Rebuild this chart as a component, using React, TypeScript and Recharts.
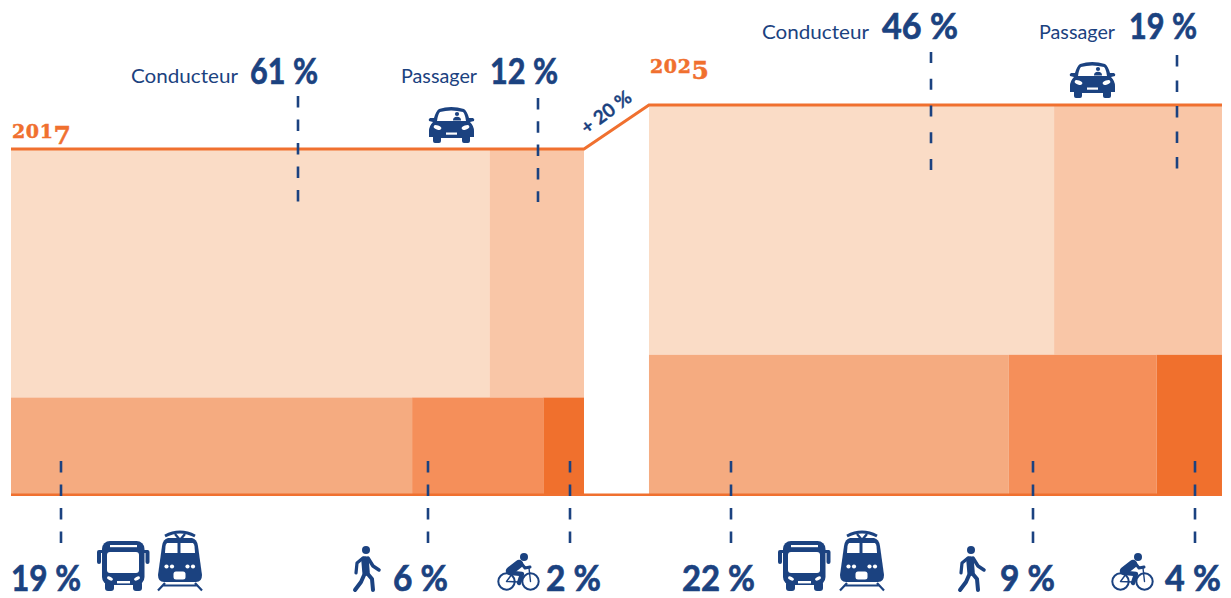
import React from 'react';
import { ComposedChart, Line, XAxis, YAxis, ReferenceArea, ReferenceLine } from 'recharts';

// ---- data ----
const years = ['2017', '2025'];
const totalVolume = [100, 112.7];          // height of each panel (2017 = 100)
const lowerHeight = [28.2, 40.5];          // height of the lower row of tiles
const conductorWidth = [83.5, 70.7];       // % of panel width
const passengerWidth = [16.5, 29.3];
const transitWidth = [70, 62.8];
const walkWidth = [22.9, 25.8];
const bikeWidth = [7.1, 11.4];
const conductorPct = ['61 %', '46 %'];
const passengerPct = ['12 %', '19 %'];
const transitPct = ['19 %', '22 %'];
const walkPct = ['6 %', '9 %'];
const bikePct = ['2 %', '4 %'];
const growthLabel = '+ 20 %';
const panelStart = [0, 111.34];

const topLine = [
  { x: panelStart[0], y: totalVolume[0] },
  { x: panelStart[0] + 100, y: totalVolume[0] },
  { x: panelStart[1], y: totalVolume[1] },
  { x: panelStart[1] + 100, y: totalVolume[1] },
];
const bottomLine = [
  { x: panelStart[0], y: 0.06 },
  { x: panelStart[1] + 100, y: 0.06 },
];

// ---- layout ----
const W = 1231;
const H = 598;
const PXU = 5.73;
const PYU = 3.46;
const BASE = 495;
const ORIGIN = 11;
const toX = (px: number) => (px - ORIGIN) / PXU;
const toY = (py: number) => (BASE - py) / PYU;

const NAVY = '#1B4280';
const ORANGE = '#F0702F';
const C_COND = '#FADCC6';
const C_PASS = '#F9C6A7';
const C_TRANS = '#F5AB80';
const C_WALK = '#F58F5A';
const C_BIKE = '#F0702D';

const leaders: [number, number, number, string][] = [
  [298, 96, 202, '11.5 12'], [538, 98, 202, '11.5 11.8'],
  [931, 52, 170, '11 15.75'], [1177, 55, 169, '11.5 14'],
  [61, 461, 543, '11.5 12'], [428, 461, 543, '11.5 12'], [570, 461, 543, '11.5 12'],
  [731, 461, 543, '11.5 12'], [1033, 461, 543, '11.5 12'], [1195, 461, 543, '11.5 12'],
];

const SANS = 'Lato, sans-serif';

const Big = ({ x, y, w, t }: { x: number; y: number; w: number; t: string }) => (
  <text x={x} y={y} fill={NAVY} stroke={NAVY} strokeWidth={0.7} fontFamily={SANS} fontWeight={700} fontSize={37}
    textLength={w} lengthAdjust="spacingAndGlyphs">{t}</text>
);
const Small = ({ x, y, w, t }: { x: number; y: number; w: number; t: string }) => (
  <text x={x} y={y} fill={NAVY} fontFamily={SANS} fontWeight={400} fontSize={19.5}
    textLength={w} lengthAdjust="spacingAndGlyphs">{t}</text>
);
const Year = ({ x, y, t }: { x: number; y: number; t: string }) => (
  <text x={x} y={y} fill={ORANGE} stroke={ORANGE} strokeWidth={0.5} fontFamily="'DejaVu Serif', serif" fontWeight={700} fontSize={19} letterSpacing={0.6}>
    {t.slice(0, 3)}<tspan dy={5.5} fontSize={25}>{t.slice(3)}</tspan>
  </text>
);

const Bus = ({ x, y }: { x: number; y: number }) => (
  <g transform={`translate(${x},${y})`} fill={NAVY}>
    <rect x={5} y={0} width={42.5} height={44} rx={8} />
    <rect x={0} y={9} width={4} height={14} rx={2} />
    <rect x={48.5} y={9} width={4} height={14} rx={2} />
    <rect x={2} y={9} width={6} height={3} />
    <rect x={45} y={9} width={6} height={3} />
    <rect x={8} y={40} width={9} height={10} rx={3} />
    <rect x={36} y={40} width={9} height={10} rx={3} />
    <rect x={13} y={4} width={27} height={2.2} fill="#fff" />
    <rect x={10} y={11} width={32} height={21} rx={3} fill="#fff" />
    <ellipse cx={13} cy={37.5} rx={3.2} ry={1.7} fill="#fff" transform="rotate(25 13 37.5)" />
    <ellipse cx={40} cy={37.5} rx={3.2} ry={1.7} fill="#fff" transform="rotate(-25 40 37.5)" />
    <rect x={20} y={40} width={13} height={2.4} fill="#fff" />
  </g>
);

const Train = ({ x, y }: { x: number; y: number }) => (
  <g transform={`translate(${x},${y})`} fill={NAVY}>
    <path d="M8 6 Q23 -2 38 6" fill="none" stroke={NAVY} strokeWidth={2.8} />
    <path d="M18 4 L23 10 L28 4" fill="none" stroke={NAVY} strokeWidth={2.4} />
    <path d="M11 8 L35 8 Q40 9 41 16 L45 45 Q45 52 39 52 L7 52 Q1 52 1 45 L5 16 Q6 9 11 8 Z" />
    <path d="M10 13 L20.5 13 L20.5 23 L8 23 L8.5 16 Q9 14 10 13 Z" fill="#fff" />
    <path d="M23.5 13 L36 13 Q37 14 37.5 16 L38 23 L23.5 23 Z" fill="#fff" />
    <circle cx={9.5} cy={36.5} r={2.1} fill="#fff" />
    <circle cx={15} cy={36.5} r={2.1} fill="#fff" />
    <circle cx={30.5} cy={36.5} r={2.1} fill="#fff" />
    <circle cx={36} cy={36.5} r={2.1} fill="#fff" />
    <rect x={16.5} y={41.5} width={12} height={8} rx={2.5} fill="#fff" />
    <path d="M8 53 L1 60.5 M38 53 L45 60.5 M5 55.5 L41 55.5" fill="none" stroke={NAVY} strokeWidth={2.2} />
  </g>
);

const Walker = ({ x, y }: { x: number; y: number }) => (
  <g transform={`translate(${x},${y})`} fill="none" stroke={NAVY} strokeLinecap="round" strokeLinejoin="round">
    <circle cx={14} cy={4} r={4} fill={NAVY} stroke="none" />
    <path d="M13 14 L14 26" strokeWidth={7.5} />
    <path d="M11 12 L5 17 L4 27" strokeWidth={3.2} />
    <path d="M16 12 L21 20 L27 24" strokeWidth={3.5} />
    <path d="M13 27 L9 36 L3 44" strokeWidth={4} />
    <path d="M15 27 L20 33 L21 44" strokeWidth={4} />
  </g>
);

const Bike = ({ x, y }: { x: number; y: number }) => (
  <g transform={`translate(${x},${y})`} fill="none" stroke={NAVY} strokeLinecap="round" strokeLinejoin="round">
    <circle cx={9.5} cy={28.5} r={8.2} strokeWidth={2} />
    <circle cx={33.5} cy={28.5} r={8.2} strokeWidth={2} />
    <path d="M9.5 28.5 L18 17 M33.5 28.5 L32 15 M9.5 28.5 L22 29" strokeWidth={1.4} />
    <circle cx={27} cy={4} r={4} fill={NAVY} stroke="none" />
    <path d="M13 18 L22 11" strokeWidth={8.5} />
    <path d="M24 10 L28 15 L33 14" strokeWidth={3} />
    <path d="M15 20 L25 21 L22 30" strokeWidth={4.4} />
  </g>
);

const Car = ({ x, y }: { x: number; y: number }) => (
  <g transform={`translate(${x},${y})`}>
    <path fill={NAVY} d="M11 3 Q23 -1 36 3 Q39 5 41 12 L45 12 Q47 13 46 15 L42 16 Q46 20 46 25 L46 31 L42 31 L42 35 Q42 37 40 37 L36 37 Q34 37 34 35 L34 32 L13 32 L13 35 Q13 37 11 37 L7 37 Q5 37 5 35 L5 31 L1 31 L1 25 Q1 20 5 16 L1 15 Q0 13 2 12 L6 12 Q8 5 11 3 Z" />
    <path fill="#fff" d="M12 6 Q23 3 35 6 Q37 8 38 15 L9 15 Q10 8 12 6 Z" />
    <circle cx={29} cy={8} r={2.1} fill={NAVY} />
    <path fill={NAVY} d="M25 14.5 Q25 10.8 29 10.8 Q33 10.8 33 14.5 Z" />
    <ellipse cx={9.5} cy={21.5} rx={4} ry={2} fill="#fff" transform="rotate(20 9.5 21.5)" />
    <ellipse cx={37.5} cy={21.5} rx={4} ry={2} fill="#fff" transform="rotate(-20 37.5 21.5)" />
    <rect x={18} y={26.5} width={11} height={2.2} fill="#fff" />
  </g>
);

const tile = (k: string, x0: number, x1: number, y0: number, y1: number, fill: string) => (
  <ReferenceArea key={k} x1={x0} x2={x1} y1={y0} y2={y1} fill={fill} fillOpacity={1} stroke="none" ifOverflow="visible" />
);

const tiles = years.flatMap((yr, i) => {
  const s = panelStart[i];
  const low = lowerHeight[i];
  const top = totalVolume[i];
  const a = conductorWidth[i];
  const b = transitWidth[i];
  const c = walkWidth[i];
  return [
    tile(yr + 'c', s, s + a, low, top, C_COND),
    tile(yr + 'p', s + a, s + a + passengerWidth[i], low, top, C_PASS),
    tile(yr + 't', s, s + b, 0, low, C_TRANS),
    tile(yr + 'w', s + b, s + b + c, 0, low, C_WALK),
    tile(yr + 'b', s + b + c, s + 100, 0, low, C_BIKE),
  ];
});

export default function App() {
  return (
    <div style={{ position: 'absolute', left: 0, top: 0, width: W, height: H }}>
      <ComposedChart width={W} height={H} margin={{ top: 0, right: 0, bottom: 0, left: 0 }}>
        <XAxis type="number" dataKey="x" hide domain={[toX(0), toX(W)]} allowDataOverflow />
        <YAxis type="number" hide domain={[toY(H), toY(0)]} allowDataOverflow />
        {tiles}
        <Line data={bottomLine} dataKey="y" stroke={ORANGE} strokeWidth={2.6} dot={false} activeDot={false} isAnimationActive={false} />
        <Line data={topLine} dataKey="y" stroke={ORANGE} strokeWidth={3} dot={false} activeDot={false} isAnimationActive={false} />
        {leaders.map(([px, a, b, dash]) => (
          <ReferenceLine key={px} segment={[{ x: toX(px), y: toY(a) }, { x: toX(px), y: toY(b) }]}
            stroke={NAVY} strokeWidth={2.6} strokeDasharray={dash} ifOverflow="visible" />
        ))}

        <Year x={12} y={138} t={years[0]} />
        <Year x={650} y={73} t={years[1]} />

        <Small x={131} y={83} w={107} t="Conducteur" />
        <Big x={250} y={84} w={68} t={conductorPct[0]} />
        <Small x={401} y={83} w={76} t="Passager" />
        <Big x={490} y={84} w={68} t={passengerPct[0]} />
        <Small x={762} y={39} w={107} t="Conducteur" />
        <Big x={882} y={39} w={76} t={conductorPct[1]} />
        <Small x={1039} y={39} w={76} t="Passager" />
        <Big x={1129} y={39} w={68} t={passengerPct[1]} />

        <Big x={11} y={591} w={70} t={transitPct[0]} />
        <Big x={393} y={591} w={55} t={walkPct[0]} />
        <Big x={546} y={591} w={55} t={bikePct[0]} />
        <Big x={682} y={591} w={73} t={transitPct[1]} />
        <Big x={1000} y={591} w={55} t={walkPct[1]} />
        <Big x={1165} y={591} w={56} t={bikePct[1]} />

        <text transform="translate(587,135) rotate(-37)" fill={NAVY} stroke={NAVY} strokeWidth={0.3} fontFamily={SANS} fontWeight={700} fontSize={19}
          textLength={58} lengthAdjust="spacingAndGlyphs">{growthLabel}</text>

        <Car x={428} y={106} />
        <Car x={1069} y={61} />
        <Bus x={97} y={541} />
        <Train x={157} y={530} />
        <Bus x={778} y={541} />
        <Train x={839} y={530} />
        <Walker x={352} y={546} />
        <Walker x={957} y={546} />
        <Bike x={497} y={553} />
        <Bike x={1111} y={553} />
      </ComposedChart>
    </div>
  );
}
